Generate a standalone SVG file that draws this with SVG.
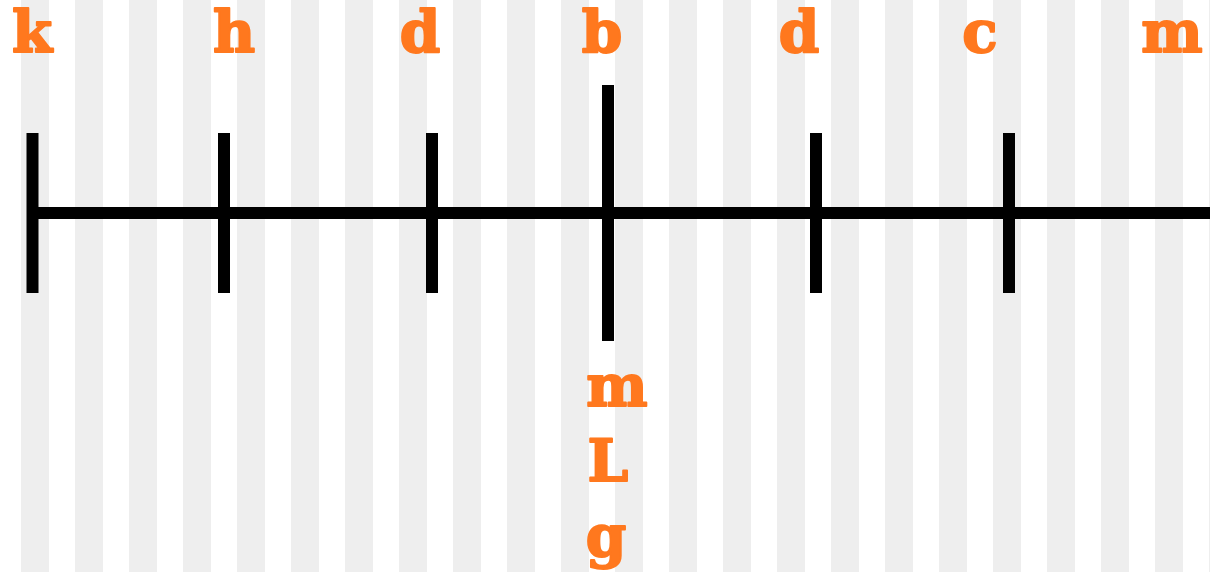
<svg xmlns="http://www.w3.org/2000/svg" width="1210" height="572" viewBox="0 0 1210 572">
<defs>
<pattern id="stripes" x="21" y="0" width="54" height="572" patternUnits="userSpaceOnUse">
<rect x="0" y="0" width="28" height="572" fill="#eeeeee"/>
</pattern>
</defs>
<style>
.lbl{font-family:"DejaVu Serif","Liberation Serif",serif;font-weight:bold;font-size:58px;fill:#ff781e;stroke:#ff781e;stroke-width:2;stroke-linejoin:round;text-anchor:middle}
.tick{stroke:#000;stroke-width:12;fill:none}
</style>
<rect width="1210" height="572" fill="#ffffff"/>
<rect width="1210" height="572" fill="url(#stripes)"/>
<g id="connectors">
<line class="tick" x1="27" y1="213" x2="1210" y2="213"/>
</g>
<g id="tick-k"><line class="tick" x1="32.5" y1="133" x2="32.5" y2="293"/><text class="lbl" x="32" y="52">k</text></g>
<g id="tick-h"><line class="tick" x1="224" y1="133" x2="224" y2="293"/><text class="lbl" x="234" y="52">h</text></g>
<g id="tick-d1"><line class="tick" x1="432" y1="133" x2="432" y2="293"/><text class="lbl" x="420" y="52">d</text></g>
<g id="tick-b"><line class="tick" x1="608" y1="85" x2="608" y2="341"/><text class="lbl" x="602" y="52">b</text>
<text class="lbl" x="617" y="406">m</text><text class="lbl" x="608" y="481">L</text><text class="lbl" x="606" y="556">g</text></g>
<g id="tick-d2"><line class="tick" x1="816" y1="133" x2="816" y2="293"/><text class="lbl" x="799" y="52">d</text></g>
<g id="tick-c"><line class="tick" x1="1009" y1="133" x2="1009" y2="293"/><text class="lbl" x="980" y="52">c</text></g>
<g id="label-m"><text class="lbl" x="1172" y="52">m</text></g>
</svg>
